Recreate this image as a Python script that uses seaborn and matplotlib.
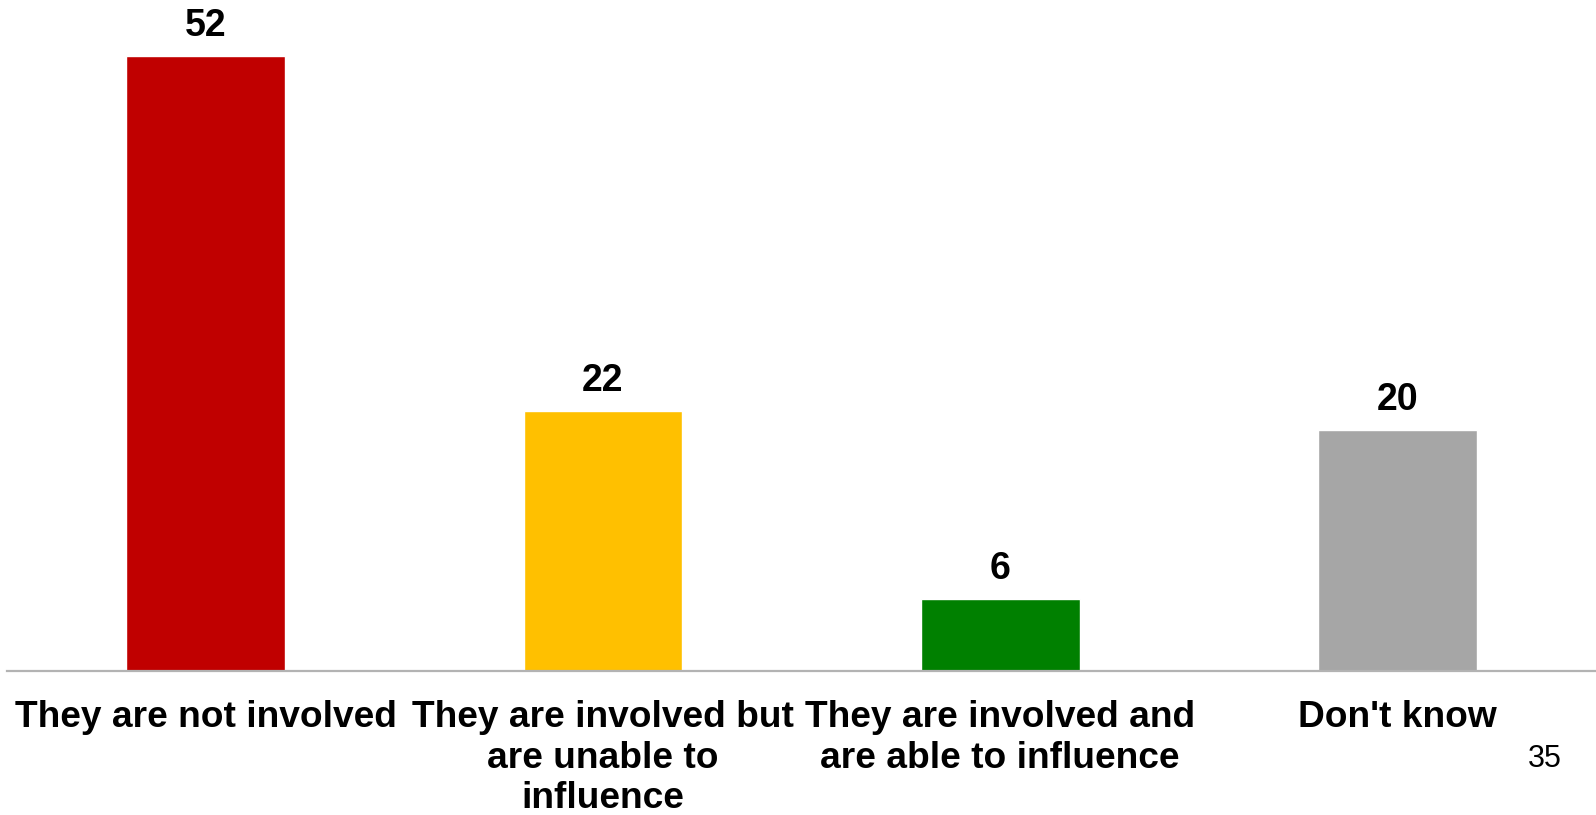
import matplotlib
matplotlib.use("Agg")
import matplotlib.pyplot as plt
import seaborn as sns

# data (bar heights; labels are shown rounded)
categories = [
    "They are not involved",
    "They are involved but\nare unable to\ninfluence",
    "They are involved and\nare able to influence",
    "Don't know",
]
values = [52, 22, 6.1, 20.4]
colors = ["#C00000", "#FFC000", "#008000", "#A6A6A6"]
page_number = "35"

sns.set_theme(style="white")
plt.rcParams["font.family"] = ["Liberation Sans", "DejaVu Sans"]

fig = plt.figure(figsize=(15.96, 8.15), dpi=100)
ax = fig.add_axes([0.0045, 0.1767, 0.9955, 0.7985])

sns.barplot(
    x=categories,
    y=values,
    hue=categories,
    palette=colors,
    width=0.4,
    saturation=1,
    legend=False,
    ax=ax,
)

ax.set_xlim(-0.5, 3.5)
ax.set_ylim(0, 55)

# value labels over the bars
for i, v in enumerate(values):
    ax.annotate(
        f"{v:.0f}", (i, v), xytext=(0, 8.5), textcoords="offset points",
        ha="center", va="bottom", fontsize=27, fontweight="bold", color="black",
    )

for side in ["top", "right", "left"]:
    ax.spines[side].set_visible(False)
ax.spines["bottom"].set_color("#B3B3B3")
ax.spines["bottom"].set_linewidth(1.6)
ax.set_yticks([])
ax.set_ylabel("")
ax.tick_params(axis="x", length=0, pad=21, colors="black")
for lbl in ax.get_xticklabels():
    lbl.set_fontsize(26.7)
    lbl.set_fontweight("bold")
    lbl.set_color("black")
    lbl.set_va("top")
    lbl.set_linespacing(1.2)

fig.text(0.968, 0.069, page_number, ha="center", va="center", fontsize=22, color="black")

fig.savefig("out.png", dpi=100)
